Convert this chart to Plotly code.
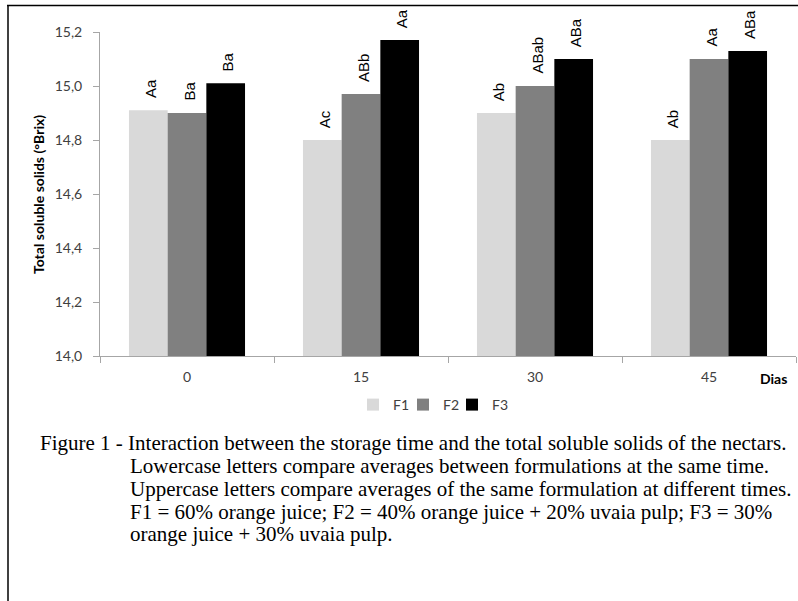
import plotly.graph_objects as go

days = ["0", "15", "30", "45"]
f1 = [14.91, 14.80, 14.90, 14.80]
f2 = [14.90, 14.97, 15.00, 15.10]
f3 = [15.01, 15.17, 15.10, 15.13]
f1_labels = ["Aa", "Ac", "Ab", "Ab"]
f2_labels = ["Ba", "ABb", "ABab", "Aa"]
f3_labels = ["Ba", "Aa", "ABa", "ABa"]
series_names = ["F1", "F2", "F3"]
colors = ["#d9d9d9", "#808080", "#000000"]
yticks = [14.0, 14.2, 14.4, 14.6, 14.8, 15.0, 15.2]
ytick_text = ["14,0", "14,2", "14,4", "14,6", "14,8", "15,0", "15,2"]
caption_lines = [
    "Figure 1 - Interaction between the storage time and the total soluble solids of the nectars.",
    "Lowercase letters compare averages between formulations at the same time.",
    "Uppercase letters compare averages of the same formulation at different times.",
    "F1 = 60% orange juice; F2 = 40% orange juice + 20% uvaia pulp; F3 = 30%",
    "orange juice + 30% uvaia pulp.",
]

W, H = 798, 601
L, R, T, B = 100, 2, 32, 245
pw, ph = W - L - R, H - T - B
BAR_W = pw / len(days) * (1 - 0.333) / 3


def px(x):
    return (x - L) / pw


def py(y):
    return (H - B - y) / ph


legend_ids = ["legend", "legend2", "legend3"]
legend_x = [353, 403, 452]

fig = go.Figure()
for i, (name, vals, labs, col) in enumerate(zip(series_names, [f1, f2, f3],
                                                [f1_labels, f2_labels, f3_labels], colors)):
    fig.add_trace(go.Bar(
        x=days, y=[v - 14.0 for v in vals], base=14.0, name=name,
        marker=dict(color=col, line=dict(width=0)), hoverinfo="skip",
        legend=legend_ids[i],
    ))
    for k, (v, lab) in enumerate(zip(vals, labs)):
        fig.add_annotation(text=lab, x=k, y=v, xref="x", yref="y",
                           xshift=(i - 1) * BAR_W + 2, yshift=10,
                           xanchor="center", yanchor="bottom", textangle=-90,
                           showarrow=False,
                           font=dict(family="Liberation Sans", size=15, color="#000000"))

legend_style = dict(orientation="h", xanchor="left", y=py(405), yanchor="middle",
                    font=dict(family="Lato", size=14, color="#404040"),
                    itemwidth=30, bgcolor="rgba(0,0,0,0)")

fig.update_layout(
    width=W, height=H,
    margin=dict(l=L, r=R, t=T, b=B),
    paper_bgcolor="white", plot_bgcolor="white",
    barmode="group", bargap=0.333, bargroupgap=0,
    font=dict(family="Lato", size=14, color="#404040"),
    showlegend=True,
    legend=dict(x=px(legend_x[0]), **legend_style),
    legend2=dict(x=px(legend_x[1]), **legend_style),
    legend3=dict(x=px(legend_x[2]), **legend_style),
    xaxis=dict(type="category", showgrid=False, showline=True, linecolor="#a6a6a6", linewidth=1,
               ticks="outside", tickson="boundaries", ticklen=6, tickcolor="#a6a6a6",
               ticklabelstandoff=8, range=[-0.5, 3.5], tickangle=0,
               tickfont=dict(family="Lato", size=14, color="#404040"), zeroline=False),
    yaxis=dict(range=[14.0, 15.2], tickvals=yticks, ticktext=ytick_text, showgrid=False,
               showline=True, linecolor="#a6a6a6", linewidth=1, ticks="outside", ticklen=6,
               ticklabelstandoff=8,
               tickcolor="#a6a6a6", tickfont=dict(family="Lato", size=14, color="#404040"),
               zeroline=False),
)

fig.add_annotation(text="<b>Total soluble solids (°Brix)</b>", xref="paper", yref="paper",
                   x=px(38), y=py(195), xanchor="center", yanchor="middle",
                   textangle=-90, showarrow=False,
                   font=dict(family="Lato", size=14, color="#000000"))
fig.add_annotation(text="<b>Dias</b>", xref="paper", yref="paper", x=px(773), y=py(378),
                   xanchor="center", yanchor="middle",
                   showarrow=False, font=dict(family="Lato", size=14, color="#000000"))

ys = [443, 466, 489, 512, 534]
xs = [38, 128, 128, 128, 128]
for line, yy, xx in zip(caption_lines, ys, xs):
    fig.add_annotation(text=line, xref="paper", yref="paper", x=px(xx), y=py(yy),
                       xanchor="left", yanchor="middle", showarrow=False,
                       font=dict(family="Liberation Serif", size=21, color="#000000"))

fig.add_shape(type="line", xref="paper", yref="paper", x0=px(7), x1=px(798), y0=py(5.5), y1=py(5.5),
              line=dict(color="#000000", width=1.5))
fig.add_shape(type="line", xref="paper", yref="paper", x0=px(8), x1=px(8), y0=py(5), y1=py(601),
              line=dict(color="#000000", width=1.5))

fig.write_html("out.html", config={"displayModeBar": False},
               post_script="document.body.style.margin='0';")
